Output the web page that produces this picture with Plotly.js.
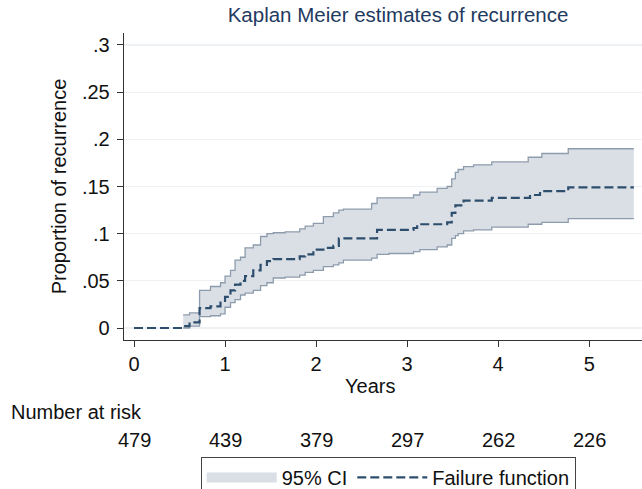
<!DOCTYPE html>
<html>
<head>
<meta charset="utf-8">
<script src="https://cdn.plot.ly/plotly-3.0.1.min.js"></script>
<style>html,body{margin:0;padding:0;background:#fff;}#chart{width:642px;height:489px;}</style>
</head>
<body>
<div id="chart"></div>
<script>
// Confidence band (step function)
const ciTime  = [0.54,0.61,0.72,0.84,0.95,1.00,1.06,1.11,1.17,1.22,1.31,1.39,1.46,1.53,1.66,1.82,1.88,1.97,2.08,2.19,2.25,2.30,2.61,2.67,2.80,3.07,3.14,3.33,3.44,3.49,3.53,3.56,3.62,3.73,3.93,4.33,4.48,4.77,5.49];
const ciUpper = [0.014,0.016,0.040,0.044,0.048,0.055,0.061,0.072,0.075,0.085,0.088,0.097,0.100,0.101,0.102,0.105,0.108,0.111,0.118,0.122,0.125,0.126,0.132,0.138,0.138,0.141,0.144,0.148,0.150,0.158,0.165,0.168,0.171,0.173,0.176,0.181,0.185,0.190,0.190];
const ciLower = [0.000,0.002,0.012,0.013,0.015,0.022,0.027,0.030,0.035,0.037,0.040,0.045,0.048,0.053,0.054,0.056,0.059,0.061,0.065,0.067,0.069,0.072,0.074,0.078,0.079,0.081,0.083,0.086,0.088,0.095,0.098,0.100,0.103,0.104,0.107,0.110,0.112,0.116,0.116];
// Failure function
const estTime = [0,0.54,0.61,0.72,0.84,0.95,1.00,1.06,1.11,1.17,1.22,1.31,1.39,1.46,1.53,1.82,1.88,1.97,2.08,2.19,2.25,2.67,3.07,3.11,3.44,3.49,3.53,3.62,3.93,4.35,4.46,4.77,5.49];
const estVal  = [0,0.002,0.006,0.021,0.023,0.027,0.033,0.040,0.046,0.050,0.055,0.061,0.067,0.071,0.073,0.076,0.078,0.083,0.085,0.087,0.095,0.104,0.106,0.110,0.112,0.122,0.130,0.135,0.138,0.141,0.145,0.149,0.149];
// Axis ticks
const xTicks = [0,1,2,3,4,5];
const yTicks = [0,0.05,0.1,0.15,0.2,0.25,0.3];
const yTickLabels = ['0','.05','.1','.15','.2','.25','.3'];
// Number at risk
const riskTimes = [0,1,2,3,4,5];
const riskCounts = [479,439,379,297,262,226];

const font = 'Arial, "Liberation Sans", sans-serif';
const fs = 20;
const bandLine = '#8d9cac';
const bandFill = '#dadfe6';
const estColor = '#2e4e6e';

const traces = [
  {x: ciTime, y: ciLower, mode: 'lines', line: {shape: 'hv', color: bandLine, width: 1.3}, showlegend: false, hoverinfo: 'skip'},
  {x: ciTime, y: ciUpper, mode: 'lines', line: {shape: 'hv', color: bandLine, width: 1.3}, fill: 'tonexty', fillcolor: bandFill, showlegend: false, hoverinfo: 'skip'},
  {x: [null], y: [null], mode: 'lines', line: {width: 18, color: bandFill}, name: '95% CI'},
  {x: estTime, y: estVal, mode: 'lines', line: {shape: 'hv', color: estColor, width: 2.2, dash: '9px,4px'}, name: 'Failure function'}
];

const annotations = riskTimes.map((t, i) => ({
  x: t, xref: 'x', y: -0.326, yref: 'paper', text: String(riskCounts[i]), showarrow: false,
  font: {family: font, size: fs, color: '#111'}, xanchor: 'center', yanchor: 'middle'
}));
annotations.push({x: -0.222, xref: 'paper', y: -0.235, yref: 'paper', text: 'Number at risk', showarrow: false,
  font: {family: font, size: fs, color: '#111'}, xanchor: 'left', yanchor: 'middle'});
annotations.push({x: 0.475, xref: 'paper', y: -0.150, yref: 'paper', text: 'Years', showarrow: false,
  font: {family: font, size: fs, color: '#111'}, xanchor: 'center', yanchor: 'middle'});

const layout = {
  width: 642, height: 489,
  margin: {l: 124, r: 0, t: 33, b: 149, autoexpand: false},
  paper_bgcolor: '#fff', plot_bgcolor: '#fff',
  font: {family: font, size: fs, color: '#111'},
  title: {text: 'Kaplan Meier estimates of recurrence', x: 0.62, xanchor: 'center', y: 0.969, yanchor: 'middle',
    font: {family: font, size: 20.5, color: '#1f3a5f'}},
  xaxis: {range: [-0.11, 5.58], tickvals: xTicks, ticktext: xTicks.map(String), ticks: 'outside', ticklen: 6,
    tickcolor: '#333', showline: true, linecolor: '#333', linewidth: 1.3, showgrid: false, zeroline: false,
    tickfont: {family: font, size: fs, color: '#111'}},
  yaxis: {range: [-0.0127, 0.3127], tickvals: yTicks, ticktext: yTickLabels, ticks: 'outside', ticklen: 6,
    tickcolor: '#333', showline: true, linecolor: '#333', linewidth: 1.3, showgrid: true, gridcolor: '#edf1f3',
    gridwidth: 1.2, zeroline: false, tickfont: {family: font, size: fs, color: '#111'}, ticklabelstandoff: 3,
    title: {text: 'Proportion of recurrence', font: {family: font, size: fs, color: '#111'}, standoff: 10}},
  legend: {orientation: 'h', x: 0.51, xanchor: 'center', y: -0.381, yanchor: 'top',
    bordercolor: '#444', borderwidth: 1, bgcolor: '#fff', itemwidth: 70,
    font: {family: font, size: fs, color: '#111'}, traceorder: 'normal'},
  annotations: annotations,
  showlegend: true
};

Plotly.newPlot('chart', traces, layout, {displayModeBar: false, staticPlot: true});
</script>
</body>
</html>
